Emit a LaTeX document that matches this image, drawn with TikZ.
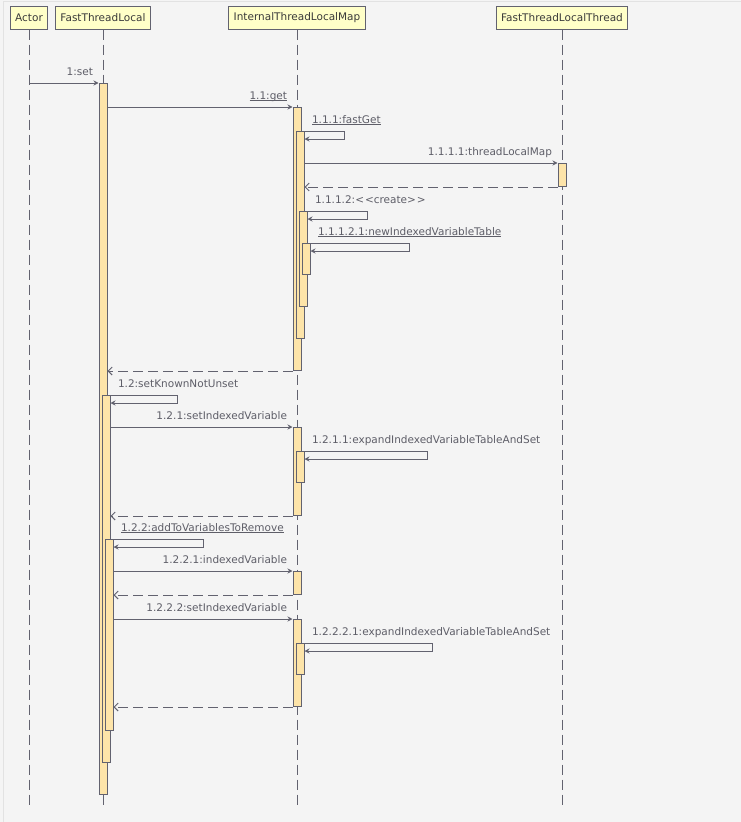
\documentclass[tikz,border=0pt]{standalone}
\usepackage{fontspec}
\setmainfont{DejaVu Sans}
\usetikzlibrary{arrows.meta}

\definecolor{bgGray}{HTML}{F4F4F4}
\definecolor{frameGray}{HTML}{E2E2E2}
\definecolor{lineGray}{HTML}{62626F}
\definecolor{headYellow}{HTML}{FFFFC8}
\definecolor{actOrange}{HTML}{FDE4A9}
\definecolor{textDark}{HTML}{3A3A3A}
\definecolor{textGray}{HTML}{5E5E68}

% Underlined message label, rule close to the baseline.
\newcommand{\ulabel}[1]{\sbox0{#1}\rlap{\rule[-2pt]{\wd0}{0.8pt}}\usebox0}

\begin{document}
\begin{tikzpicture}[x = 1pt, y = -1pt, line width = 1pt,
        font = \fontsize{10.5}{12}\selectfont,
        head/.style = {draw = lineGray, fill = headYellow, minimum height = 23pt,
            inner xsep = 5pt, inner ysep = 0pt, text = textDark},
        life/.style = {draw = lineGray, dash pattern = on 10pt off 5pt},
        act/.style = {draw = lineGray, fill = actOrange, minimum width = 8pt,
            inner sep = 0pt, anchor = north},
        call/.style = {draw = lineGray, -{Stealth[length = 5pt, width = 5pt]}},
        reply/.style = {draw = lineGray, dash pattern = on 10pt off 5pt,
            -{Straight Barb[length = 4pt, width = 8pt]}},
        lbl/.style = {text = textGray, inner sep = 0pt}
    ]

        % Background and the faint frame at top and left.
        \useasboundingbox[fill = bgGray] (0, 0) rectangle (741, 822);
        \draw[frameGray] (3, 822) -- (3, 1) -- (741, 1);

        % Participants.
        \node[head] (actor) at (29, 17.5) {Actor};
        \node[head] (ftl)   at (103, 17.5) {FastThreadLocal};
        \node[head] (itlm)  at (297, 17.5) {InternalThreadLocalMap};
        \node[head] (ftlt)  at (562, 17.5) {FastThreadLocalThread};

        % Lifelines down to the bottom.
        \coordinate (bottom) at (0, 805);
        \foreach \p in {actor, ftl, itlm, ftlt}
            \draw[life] (\p.south) -- (\p |- bottom);

        % Activation bars of FastThreadLocal.
        \node[act, minimum height = 711pt] (ftl1) at (103, 83) {};
        \node[act, minimum height = 367pt] (ftl2) at (106, 395) {};
        \node[act, minimum height = 191pt] (ftl3) at (109, 539) {};

        % Activation bars of InternalThreadLocalMap.
        \node[act, minimum height = 263pt] (itlmGet)    at (297, 107) {};
        \node[act, minimum height = 207pt] (itlmFast)   at (300, 131) {};
        \node[act, minimum height = 95pt]  (itlmCreate) at (303, 211) {};
        \node[act, minimum height = 31pt]  (itlmNew)    at (306, 243) {};
        \node[act, minimum height = 88pt]  (itlmSet)    at (297, 427) {};
        \node[act, minimum height = 31pt]  (itlmExp)    at (300, 451) {};
        \node[act, minimum height = 23pt]  (itlmIdx)    at (297, 571) {};
        \node[act, minimum height = 87pt]  (itlmSet2)   at (297, 619) {};
        \node[act, minimum height = 31pt]  (itlmExp2)   at (300, 643) {};

        % Activation bar of FastThreadLocalThread.
        \node[act, minimum height = 23pt] (ftlt1) at (562, 163) {};

        % 1 and 1.1
        \draw[call] (actor |- ftl1.north) -- (ftl1.north west)
            node[lbl, anchor = base east, xshift = -5pt, yshift = 8pt] {1:set};
        \draw[call] (ftl1.east |- itlmGet.north) -- (itlmGet.north west)
            node[lbl, anchor = base east, xshift = -5pt, yshift = 8pt] {\ulabel{1.1:get}};

        % 1.1.1 and what it calls.
        \draw[call] (itlmFast.north east)
            node[lbl, anchor = base west, xshift = 7pt, yshift = 8pt] {\ulabel{1.1.1:fastGet}}
            -- ++(40, 0) |- ([yshift = -8pt] itlmFast.north east);
        \draw[call] (itlmFast.east |- ftlt1.north) -- (ftlt1.north west)
            node[lbl, anchor = base east, xshift = -5pt, yshift = 8pt] {1.1.1.1:threadLocalMap};
        \draw[reply] (ftlt1.south west) -- (itlmFast.east |- ftlt1.south);
        \draw[call] (itlmCreate.north east)
            node[lbl, anchor = base west, xshift = 7pt, yshift = 8pt]
                {1.1.1.2:<\kern1pt<create>\kern1pt>}
            -- ++(60, 0) |- ([yshift = -8pt] itlmCreate.north east);
        \draw[call] (itlmNew.north east)
            node[lbl, anchor = base west, xshift = 7pt, yshift = 8pt] {\ulabel{1.1.1.2.1:newIndexedVariableTable}}
            -- ++(99, 0) |- ([yshift = -8pt] itlmNew.north east);
        \draw[reply] (itlmGet.south west) -- (ftl1.east |- itlmGet.south);

        % 1.2 and what it calls.
        \draw[call] (ftl2.north east)
            node[lbl, anchor = base west, xshift = 7pt, yshift = 8pt] {1.2:setKnownNotUnset}
            -- ++(67, 0) |- ([yshift = -8pt] ftl2.north east);
        \draw[call] (ftl2.east |- itlmSet.north) -- (itlmSet.north west)
            node[lbl, anchor = base east, xshift = -5pt, yshift = 8pt] {1.2.1:setIndexedVariable};
        \draw[call] (itlmExp.north east)
            node[lbl, anchor = base west, xshift = 7pt, yshift = 8pt] {1.2.1.1:expandIndexedVariableTableAndSet}
            -- ++(123, 0) |- ([yshift = -8pt] itlmExp.north east);
        \draw[reply] (itlmSet.south west) -- (ftl2.east |- itlmSet.south);

        % 1.2.2 and what it calls.
        \draw[call] (ftl3.north east)
            node[lbl, anchor = base west, xshift = 7pt, yshift = 8pt] {\ulabel{1.2.2:addToVariablesToRemove}}
            -- ++(90, 0) |- ([yshift = -8pt] ftl3.north east);
        \draw[call] (ftl3.east |- itlmIdx.north) -- (itlmIdx.north west)
            node[lbl, anchor = base east, xshift = -5pt, yshift = 8pt] {1.2.2.1:indexedVariable};
        \draw[reply] (itlmIdx.south west) -- (ftl3.east |- itlmIdx.south);
        \draw[call] (ftl3.east |- itlmSet2.north) -- (itlmSet2.north west)
            node[lbl, anchor = base east, xshift = -5pt, yshift = 8pt] {1.2.2.2:setIndexedVariable};
        \draw[call] (itlmExp2.north east)
            node[lbl, anchor = base west, xshift = 7pt, yshift = 8pt] {1.2.2.2.1:expandIndexedVariableTableAndSet}
            -- ++(128, 0) |- ([yshift = -8pt] itlmExp2.north east);
        \draw[reply] (itlmSet2.south west) -- (ftl3.east |- itlmSet2.south);
    \end{tikzpicture}
\end{document}
